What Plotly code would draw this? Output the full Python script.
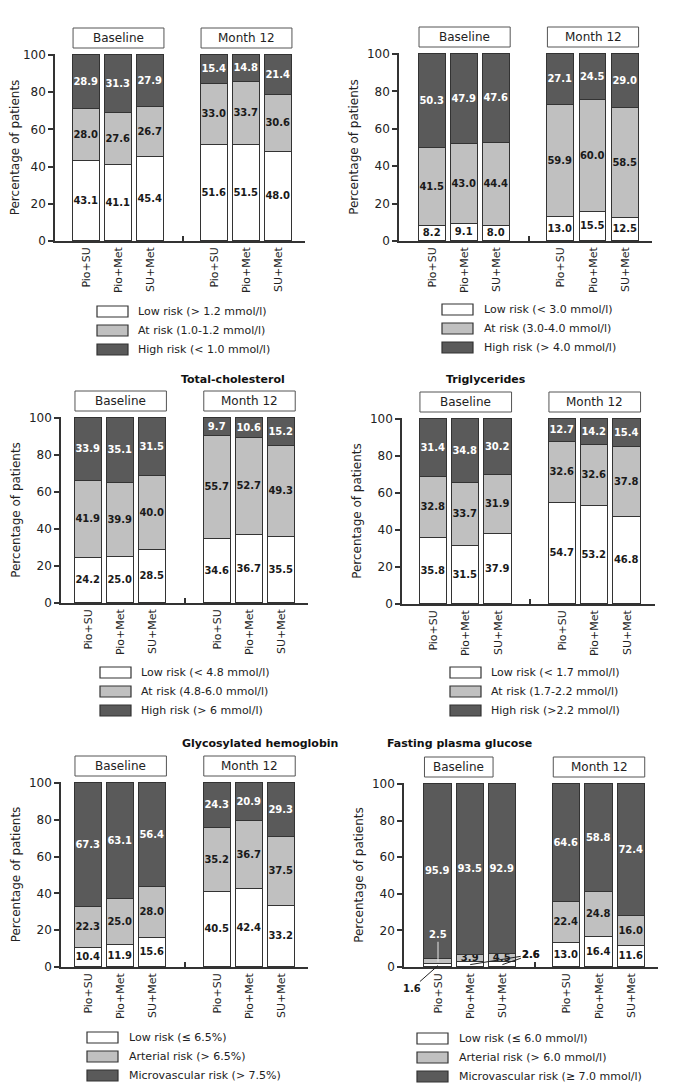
import plotly.graph_objects as go

W, H = 685, 1089
OFF = 8  # the page body adds an 8 px margin around the figure
FONT = "DejaVu Sans"
EDGE = "#333333"
INK = "#222222"
FILLS = ["#ffffff", "#c0c0c0", "#5a5a5a"]
TEXTCOLS = ["#1a1a1a", "#1a1a1a", "#ffffff"]

groups = ["Pio+SU", "Pio+Met", "SU+Met", "Pio+SU", "Pio+Met", "SU+Met"]
positions = [0, 1, 2, 4, 5, 6]
periods = ["Baseline", "Month 12"]

# HDL (top left, no title)
hdl_low = [43.1, 41.1, 45.4, 51.6, 51.5, 48.0]
hdl_at = [28.0, 27.6, 26.7, 33.0, 33.7, 30.6]
hdl_high = [28.9, 31.3, 27.9, 15.4, 14.8, 21.4]
hdl_names = ["Low risk (> 1.2 mmol/l)", "At risk (1.0-1.2 mmol/l)", "High risk (< 1.0 mmol/l)"]

# LDL (top right, no title)
ldl_low = [8.2, 9.1, 8.0, 13.0, 15.5, 12.5]
ldl_at = [41.5, 43.0, 44.4, 59.9, 60.0, 58.5]
ldl_high = [50.3, 47.9, 47.6, 27.1, 24.5, 29.0]
ldl_names = ["Low risk (< 3.0 mmol/l)", "At risk (3.0-4.0 mmol/l)", "High risk (> 4.0 mmol/l)"]

# Total-cholesterol
tc_low = [24.2, 25.0, 28.5, 34.6, 36.7, 35.5]
tc_at = [41.9, 39.9, 40.0, 55.7, 52.7, 49.3]
tc_high = [33.9, 35.1, 31.5, 9.7, 10.6, 15.2]
tc_names = ["Low risk (< 4.8 mmol/l)", "At risk (4.8-6.0 mmol/l)", "High risk (> 6 mmol/l)"]

# Triglycerides
tg_low = [35.8, 31.5, 37.9, 54.7, 53.2, 46.8]
tg_at = [32.8, 33.7, 31.9, 32.6, 32.6, 37.8]
tg_high = [31.4, 34.8, 30.2, 12.7, 14.2, 15.4]
tg_names = ["Low risk (< 1.7 mmol/l)", "At risk (1.7-2.2 mmol/l)", "High risk (>2.2 mmol/l)"]

# Glycosylated hemoglobin
hb_low = [10.4, 11.9, 15.6, 40.5, 42.4, 33.2]
hb_at = [22.3, 25.0, 28.0, 35.2, 36.7, 37.5]
hb_high = [67.3, 63.1, 56.4, 24.3, 20.9, 29.3]
hb_names = ["Low risk (\u2264 6.5%)", "Arterial risk (> 6.5%)", "Microvascular risk (> 7.5%)"]

# Fasting plasma glucose
fpg_low = [1.6, 2.6, 2.6, 13.0, 16.4, 11.6]
fpg_at = [2.5, 3.9, 4.5, 22.4, 24.8, 16.0]
fpg_high = [95.9, 93.5, 92.9, 64.6, 58.8, 72.4]
fpg_names = ["Low risk (\u2264 6.0 mmol/l)", "Arterial risk (> 6.0 mmol/l)",
             "Microvascular risk (\u2265 7.0 mmol/l)"]

# geometry in page pixels: axis left/right, top (100) / bottom (0), first bar centre, pitch
panels = [
    dict(series=[hdl_low, hdl_at, hdl_high], names=hdl_names, title=None,
         box=(55, 305, 54, 241, 86.5, 32.0), legend=(97, 306, 136)),
    dict(series=[ldl_low, ldl_at, ldl_high], names=ldl_names, title=None,
         box=(399, 652, 53, 241, 432.5, 32.1), legend=(442, 304, 482)),
    dict(series=[tc_low, tc_at, tc_high], names=tc_names, title=("Total-cholesterol", 179, 379),
         box=(61, 308, 417, 603, 88.5, 32.2), legend=(100, 667, 139)),
    dict(series=[tg_low, tg_at, tg_high], names=tg_names, title=("Triglycerides", 528, 379),
         box=(402, 655, 418, 604, 433.5, 32.25), legend=(450, 667, 489)),
    dict(series=[hb_low, hb_at, hb_high], names=hb_names, title=("Glycosylated hemoglobin", 180, 743),
         box=(61, 308, 782, 967, 88.5, 32.2), legend=(87, 1032, 127)),
    dict(series=[fpg_low, fpg_at, fpg_high], names=fpg_names, title=("Fasting plasma glucose", 534, 743),
         box=(404, 658, 783, 967, 438, 32.2), legend=(417, 1033, 457),
         hide={0: [0, 1, 2], 1: [0]}, base_box_end=1.71),
]

BW = 0.84


def px(x):
    return (x - OFF) / W


def py(y):
    return 1 - (y - OFF) / H


fig = go.Figure()
shapes = []
annotations = []

for i, p in enumerate(panels, start=1):
    sfx = "" if i == 1 else str(i)
    xa, ya = "x" + sfx, "y" + sfx
    left, right, top, bottom, c0, pitch = p["box"]

    for k, vals in enumerate(p["series"]):
        txt = [f"{v:.1f}" for v in vals]
        for j in p.get("hide", {}).get(k, []):
            txt[j] = ""
        fig.add_trace(go.Bar(
            x=positions, y=vals, xaxis=xa, yaxis=ya, width=BW,
            marker=dict(color=FILLS[k], line=dict(color=EDGE, width=1.5)),
            text=txt, textposition="inside", insidetextanchor="middle", textangle=0,
            textfont=dict(family=FONT, size=10, color=TEXTCOLS[k], weight="bold"),
            showlegend=False, hoverinfo="skip",
        ))

    fig.layout["xaxis" + sfx] = dict(
        domain=[px(left), px(right)],
        range=[-(c0 - left) / pitch, (right - c0) / pitch],
        tickvals=positions, ticktext=groups, tickangle=-90, ticks="",
        tickfont=dict(family=FONT, size=11, color=INK),
        showline=True, linecolor=EDGE, linewidth=1.5, showgrid=False, zeroline=False,
        minor=dict(tickvals=[3], ticks="inside", ticklen=5, tickcolor=EDGE, tickwidth=1.5),
        anchor=ya, fixedrange=True, automargin=False,
    )
    fig.layout["yaxis" + sfx] = dict(
        domain=[py(bottom), py(top)], range=[0, 100.5],
        tickvals=[0, 20, 40, 60, 80, 100], ticks="outside", ticklen=5,
        tickcolor=EDGE, tickwidth=1.5,
        tickfont=dict(family=FONT, size=12, color=INK),
        showline=True, linecolor=EDGE, linewidth=1.5, showgrid=False, zeroline=False,
        title=dict(text="Percentage of patients", font=dict(family=FONT, size=12, color=INK), standoff=6),
        anchor=xa, fixedrange=True, automargin=False,
    )

    # period boxes above the bars
    base_end = p.get("base_box_end", 2 + BW / 2)
    for label, (bx0, bx1) in zip(periods, [(-BW / 2, base_end), (4 - BW / 2, 6 + BW / 2)]):
        shapes.append(dict(type="rect", xref=xa, yref="paper", x0=bx0, x1=bx1,
                           y0=py(top - 6), y1=py(top - 26),
                           line=dict(color="#555555", width=1), fillcolor="white"))
        annotations.append(dict(text=label, xref=xa, yref="paper", x=(bx0 + bx1) / 2,
                                y=py(top - 16), yanchor="middle", showarrow=False,
                                font=dict(family=FONT, size=12, color=INK)))

    if p["title"]:
        t, tx, ty = p["title"]
        annotations.append(dict(text=f"<b>{t}</b>", xref="paper", yref="paper", x=px(tx), y=py(ty),
                                yanchor="middle", showarrow=False,
                                font=dict(family=FONT, size=11, color="#111111")))

    # legend
    lx, ly, ltx = p["legend"]
    for k, name in enumerate(p["names"]):
        sy = ly + 19 * k
        shapes.append(dict(type="rect", xref="paper", yref="paper",
                           x0=px(lx), x1=px(lx + 31), y0=py(sy + 11), y1=py(sy),
                           line=dict(color=EDGE, width=1.2), fillcolor=FILLS[k]))
        annotations.append(dict(text=name, xref="paper", yref="paper", x=px(ltx), y=py(sy + 5.5),
                                xanchor="left", yanchor="middle", showarrow=False,
                                font=dict(family=FONT, size=11, color=INK)))

# call-outs for the thin baseline segments of fasting plasma glucose
callouts = [
    (0, fpg_low[0] / 2, f"{fpg_low[0]:.1f}", -26, 23, "#1a1a1a", "#222222"),
    (0, fpg_low[0] + fpg_at[0] / 2, f"{fpg_at[0]:.1f}", 0, -27, "#ffffff", "#e6e6e6"),
    (1, fpg_low[1] / 2, f"{fpg_low[1]:.1f}", 61, -10, "#1a1a1a", "#222222"),
    (2, fpg_low[2] / 2, f"{fpg_low[2]:.1f}", 29, -10, "#1a1a1a", "#222222"),
]
for j, yv, txt, ax, ay, col, lcol in callouts:
    annotations.append(dict(text=f"<b>{txt}</b>", xref="x6", yref="y6", x=positions[j], y=yv,
                            ax=ax, ay=ay, showarrow=True, arrowhead=0, arrowwidth=1,
                            arrowcolor=lcol, standoff=0,
                            font=dict(family=FONT, size=10, color=col)))

fig.update_layout(
    width=W, height=H, margin=dict(l=0, r=0, t=0, b=0, pad=0, autoexpand=False),
    barmode="stack", bargap=0,
    paper_bgcolor="white", plot_bgcolor="white",
    uniformtext=dict(minsize=10, mode="show"),
    shapes=shapes, annotations=annotations, showlegend=False,
)

fig.write_html("out.html")
